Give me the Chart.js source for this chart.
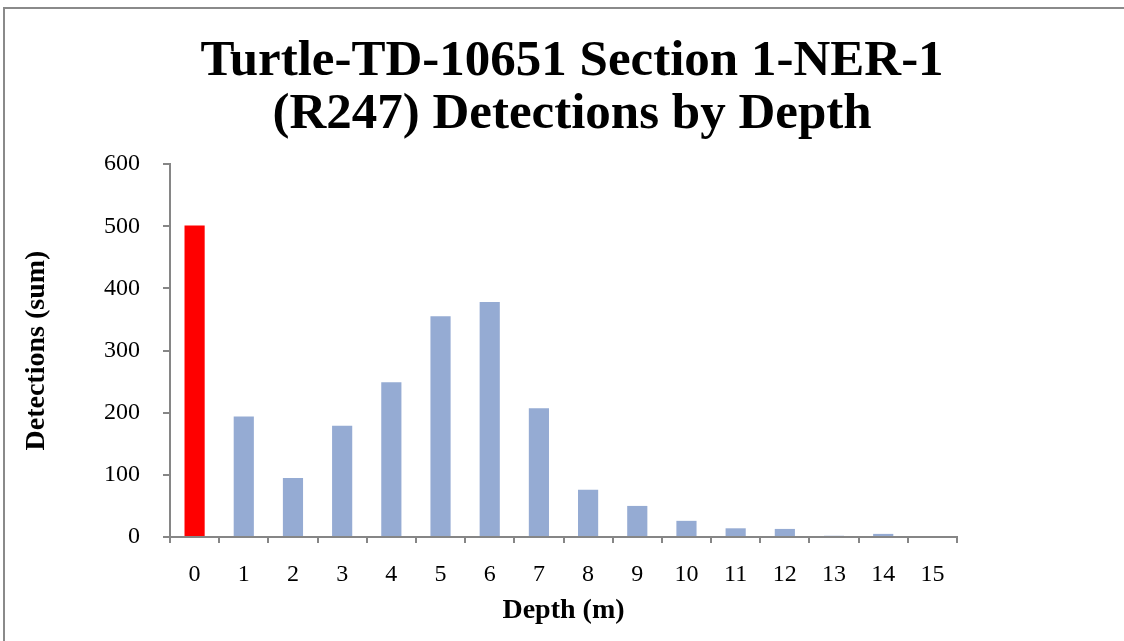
<!DOCTYPE html>
<html>
<head>
<meta charset="utf-8">
<script src="https://cdn.jsdelivr.net/npm/chart.js@4"></script>
<style>
  html, body { margin: 0; padding: 0; background: #ffffff; }
  #wrap { position: relative; width: 1124px; height: 641px; overflow: hidden; }
  #frame { position: absolute; left: 3px; top: 7px; width: 1200px; height: 700px;
           border-left: 2px solid #8a8a8a; border-top: 2px solid #8a8a8a; pointer-events: none; }
  canvas { position: absolute; left: 0; top: 0; }
</style>
</head>
<body>
<div id="wrap">
  <canvas id="c" width="1124" height="641"></canvas>
  <div id="frame"></div>
</div>
<script>
const titleLines = ["Turtle-TD-10651 Section 1-NER-1", "(R247) Detections by Depth"];
const depthLabels = ["0","1","2","3","4","5","6","7","8","9","10","11","12","13","14","15"];
const detections = [501, 194, 95, 179, 249, 355, 378, 207, 76, 50, 26, 14, 13, 2, 5, 0];
const highlightIndex = [0];
const xTitle = "Depth (m)";
const yTitle = "Detections (sum)";

const SERIF = "'Liberation Serif', 'DejaVu Serif', serif";
const AXIS = '#868686';
const barColors = depthLabels.map((_, i) => highlightIndex.includes(i) ? '#ff0000' : '#95abd3');

new Chart(document.getElementById('c'), {
  type: 'bar',
  data: {
    labels: depthLabels,
    datasets: [{
      data: detections,
      backgroundColor: barColors,
      borderWidth: 0,
      categoryPercentage: 1,
      barPercentage: 0.41
    }]
  },
  options: {
    responsive: false,
    devicePixelRatio: 1,
    animation: false,
    events: [],
    layout: { padding: { left: 20, right: 0, top: 0, bottom: 0 } },
    plugins: {
      legend: { display: false },
      tooltip: { enabled: false },
      title: {
        display: true,
        text: titleLines,
        color: '#000000',
        font: { family: SERIF, size: 51, weight: 'bold', lineHeight: 1.04 },
        padding: { top: 35, bottom: 23 }
      }
    },
    scales: {
      x: {
        type: 'category',
        offset: true,
        grid: { display: true, offset: true, drawOnChartArea: false, tickLength: 6, color: AXIS, lineWidth: 2 },
        border: { display: true, color: AXIS, width: 2 },
        ticks: { color: '#000000', font: { family: SERIF, size: 24 }, padding: 17, maxRotation: 0, autoSkip: false },
        title: { display: true, text: xTitle, color: '#000000', font: { family: SERIF, size: 28, weight: 'bold' }, padding: { top: 0, bottom: 13 } },
        afterFit: (s) => { s.height = 104; }
      },
      y: {
        min: 0, max: 600,
        ticks: { stepSize: 100, color: '#000000', font: { family: SERIF, size: 24 }, padding: 23 },
        grid: { display: true, drawOnChartArea: false, tickLength: 7, color: AXIS, lineWidth: 2 },
        border: { display: true, color: AXIS, width: 2 },
        title: { display: true, text: yTitle, color: '#000000', font: { family: SERIF, size: 28, weight: 'bold' }, padding: { top: 0, bottom: 0 } },
        afterFit: (s) => { s.width = 150; }
      },
      yRight: {
        position: 'right',
        display: true,
        min: 0, max: 600,
        grid: { display: false, drawOnChartArea: false },
        border: { display: false },
        ticks: { display: false },
        afterFit: (s) => { s.width = 167; }
      }
    }
  }
});
</script>
</body>
</html>
